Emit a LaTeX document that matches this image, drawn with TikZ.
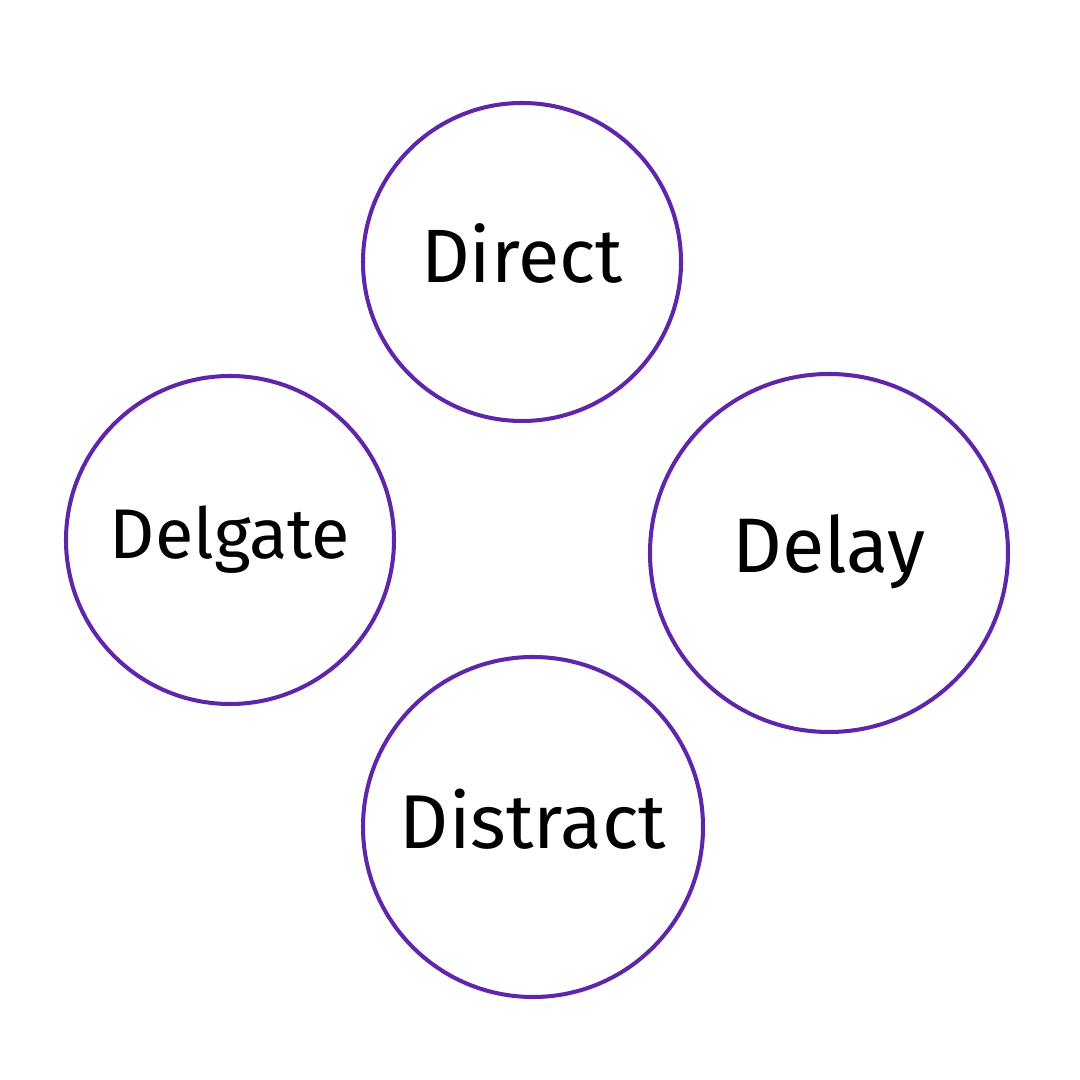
\documentclass[tikz,border=0pt]{standalone}
\usepackage{fontspec}
\setmainfont{Fira Sans}
\usepackage{tikz}
\definecolor{ringpurple}{RGB}{96,38,170}

\begin{document}
\begin{tikzpicture}[every node/.style={font=\fontsize{21.5}{24}\selectfont},
	ring/.style={circle, draw=ringpurple, line width=1.15pt, inner sep=0pt, text height=0.53cm, text depth=0.12cm}]
	\useasboundingbox (0,0) rectangle (10.8,10.8);
	\node[ring, minimum size=3.18cm] (direct) at (5.22,8.18) {Direct};
	\node[ring, minimum size=3.28cm, font=\fontsize{20}{24}\selectfont, text height=0.50cm] (delgate) at (2.30,5.40) {Delgate};
	\node[ring, minimum size=3.58cm, font=\fontsize{22}{26}\selectfont, text height=0.56cm, text depth=0.16cm] (delay) at (8.29,5.27) {Delay};
	\node[ring, minimum size=3.40cm, font=\fontsize{21.7}{26}\selectfont, text height=0.55cm] (distract) at (5.33,2.53) {Distract};
\end{tikzpicture}
\end{document}
